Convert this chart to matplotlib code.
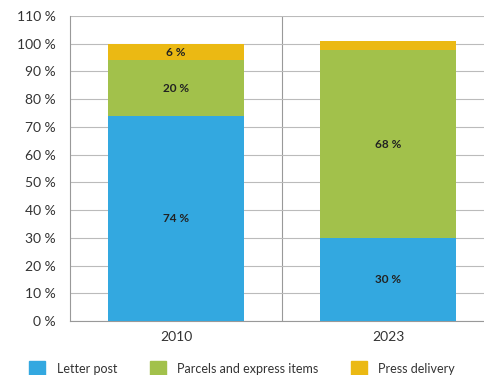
import matplotlib.pyplot as plt
from matplotlib.lines import Line2D
import numpy as np

plt.rcParams['font.family'] = ['Lato', 'DejaVu Sans']

years = ["2010", "2023"]
series = ["Letter post", "Parcels and express items", "Press delivery"]
letter_post = [74, 30]
parcels = [20, 67.6]
press = [6, 3.4]
shown_labels = [["74 %", "30 %"], ["20 %", "68 %"], ["6 %", None]]
colors = ["#33A8E0", "#A2C14B", "#EBB913"]
yticks = np.arange(0, 111, 10)

fig = plt.figure(figsize=(4.85, 3.75), dpi=100)
ax = fig.add_axes([70/485, 54/375, 424/485, 305/375])

x = np.arange(len(years))
bottom = np.zeros(len(years))
for vals, col, labs in zip([letter_post, parcels, press], colors, shown_labels):
    vals = np.array(vals)
    ax.bar(x, vals, bottom=bottom, width=0.646, color=col, zorder=3)
    for xi, b, v, lab in zip(x, bottom, vals, labs):
        if lab:
            ax.text(xi, b + v/2, lab, ha='center', va='center', fontsize=8.5,
                    fontweight='bold', color='#222222', zorder=4)
    bottom += vals

ax.set_xlim(-0.5, 1.5)
ax.set_ylim(0, 110)
ax.set_yticks(yticks)
ax.set_yticklabels([f"{t} %" for t in yticks])
ax.set_xticks(x)
ax.set_xticklabels(years)
ax.tick_params(length=0, labelsize=10, colors='#333333')
ax.tick_params(axis='y', pad=10)
ax.tick_params(axis='x', pad=7)
ax.grid(axis='y', color='#BBBBBB', linewidth=0.8, zorder=0)
ax.axvline(0.5, color='#999999', linewidth=0.8, zorder=0)
for s in ['top', 'right']:
    ax.spines[s].set_visible(False)
for s in ['left', 'bottom']:
    ax.spines[s].set_color('#999999')
    ax.spines[s].set_linewidth(0.8)

handles = [Line2D([], [], marker='s', linestyle='none', markersize=11.5,
                  markerfacecolor=c, markeredgecolor=c) for c in colors]
fig.legend(handles, series, loc='center left', bbox_to_anchor=(23/485, 6/375),
           ncol=3, frameon=False, fontsize=9, columnspacing=2.6, borderpad=0,
           handlelength=1.3, handletextpad=0.9, labelcolor='#333333')

fig.savefig("out.png", dpi=100)
